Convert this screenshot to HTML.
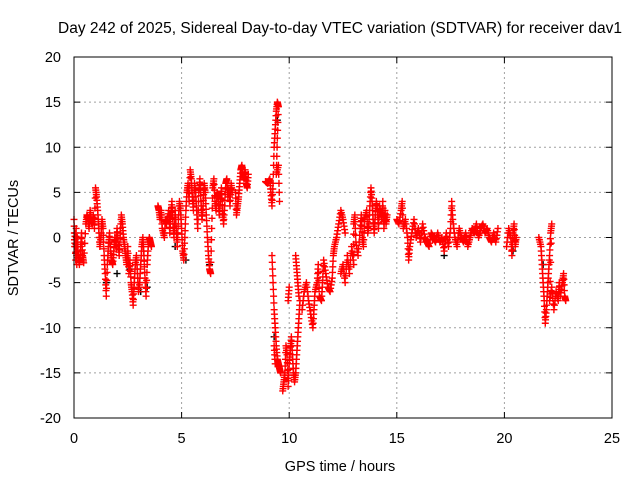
<!DOCTYPE html>
<html><head><meta charset="utf-8"><style>
html,body{margin:0;padding:0;background:#fff;}
svg{display:block;font-family:"Liberation Sans",sans-serif;}
</style></head><body>
<svg id="chart" width="640" height="480" viewBox="0 0 640 480">
<text x="340" y="33" font-size="15.5" text-anchor="middle">Day 242 of 2025, Sidereal Day-to-day VTEC variation (SDTVAR) for receiver dav1</text>
<text x="340" y="471" font-size="14.5" text-anchor="middle">GPS time / hours</text>
<text transform="translate(18,238) rotate(-90)" font-size="14.5" text-anchor="middle">SDTVAR / TECUs</text>
<g id="grid"></g>
<g id="axes"></g>
<g id="black"></g>
<g id="red"></g>
<rect x="74" y="57" width="538" height="361" fill="none" stroke="#000" stroke-width="1"/>
</svg>
<script>
const xTicks=[0,5,10,15,20,25];
const yTicks=[-20,-15,-10,-5,0,5,10,15,20];
const redT=[0,0.03,0.05,0.08,0.1,0.13,0.15,0.2,0.25,0.3,0.35,0.4,0.45,0.55,0.6,0.65,0.7,0.75,0.8,0.85,0.9,0.95,1.0,1.05,1.1,1.15,1.2,1.25,1.3,1.35,1.4,1.45,1.5,1.55,1.6,1.65,1.7,1.75,1.8,1.85,1.9,1.95,2.0,2.05,2.1,2.15,2.2,2.25,2.3,2.35,2.4,2.45,2.5,2.55,2.6,2.65,2.7,2.75,2.8,2.85,2.9,2.95,3.0,3.05,3.1,3.15,3.2,3.25,3.3,3.35,3.4,3.45,3.5,3.55,3.6,
3.9,3.95,4.0,4.05,4.1,4.2,4.25,4.3,4.4,4.45,4.5,4.55,4.6,4.65,4.7,4.75,4.8,4.85,4.9,4.95,5.0,5.05,5.1,5.15,5.2,5.25,5.3,5.35,5.4,5.45,5.5,5.55,5.6,5.65,5.7,5.75,5.8,5.85,5.9,5.95,6.0,6.05,6.1,6.15,6.2,6.25,6.3,6.35,6.4,6.45,6.5,6.55,6.6,6.65,6.7,6.75,6.8,6.85,6.9,6.95,7.0,7.05,7.1,7.15,7.2,7.25,7.3,7.35,7.5,7.55,7.6,7.65,7.7,7.75,7.8,7.85,7.9,7.95,8.0,8.05,8.1,
8.9,9.0,9.1,9.15,9.2,9.25,9.3,9.35,9.4,9.45,9.5,9.45,9.4,9.5,9.55,9.2,9.25,9.3,9.35,9.4,9.45,9.5,9.55,9.6,9.3,9.35,9.7,9.75,9.8,9.85,9.9,9.95,10.0,10.05,10.1,10.15,10.2,10.25,10.3,10.35,10.4,10.45,10.5,10.3,10.35,10.4,10.45,10.0,9.95,
10.6,10.7,10.8,10.9,11.0,11.1,11.15,11.2,11.3,11.35,11.4,11.5,11.55,11.6,11.7,11.8,11.9,12.0,12.05,12.1,12.2,12.3,12.4,12.5,12.6,12.4,12.5,12.6,12.7,12.8,12.9,13.0,13.0,13.05,13.1,13.2,13.3,13.35,13.4,13.45,13.5,13.6,13.65,13.7,13.75,13.8,13.85,13.9,13.95,14.0,14.05,14.1,14.15,14.2,14.3,14.35,14.4,14.45,14.5,14.55,
15.0,15.1,15.2,15.25,15.3,15.4,15.5,15.55,15.6,15.7,15.8,15.9,16.0,16.1,16.2,16.3,16.4,16.5,16.6,16.7,16.8,16.9,17.0,17.1,17.2,17.3,17.4,17.5,17.55,17.6,17.7,17.8,17.9,18.0,18.1,18.2,18.3,18.4,18.5,18.6,18.7,18.8,18.9,19.0,19.1,19.2,19.3,19.4,19.5,19.6,19.7,
20.1,20.2,20.3,20.35,20.4,20.45,20.5,20.55,
21.6,21.7,21.75,21.8,21.85,21.9,21.95,22.0,22.05,22.1,22.15,22.2,22.1,22.2,22.3,22.4,22.5,22.55,22.6,22.7,22.75,22.8,22.85];
const redV=[2,-1,0.5,-2.5,1,-3,0,-2,-3,-1.5,0.5,-2,-2.8,1.5,2.5,2,1,3,2,1.5,2.5,1,5.5,4.5,3,1,-1,0,2,1,-2,-4,-6.5,-3,-1,0.5,-1.5,-2.5,-3,-1.5,0,-1,1,-0.5,-2,0.5,2.5,1.5,0,-1,-2,-3,-1,-4,-2.5,-5,-6,-7.5,-5,-3,-2,-4,-6,-5,-3,-1,0,-2,-4.5,-6.5,-3,-1,0,-0.5,-1,
3.5,3,2,3,1,0,2,1.5,3,0.5,2.5,4,1.5,0,3,1,-1,2,4,3,1,-1.5,-2.5,0,3,5,6,4,7.5,6.5,4.5,3,6,5,3,1,5,6.5,4,2,3.5,6,5,2.5,0,-2,-3.5,-4,1,5.5,6.5,4,3,5,4.5,2.5,4,5.5,3,1.5,3.5,6,6.5,4.5,5.5,3.5,6,5,5,2.5,3.5,4.5,6,7.5,8,7,6.5,7.5,6,5.5,7,
6.2,6,6.5,5,3.5,6,10,12,14,15,14.5,11,7,8,4,-2,-5,-8,-10,-12,-13.5,-14,-14.5,-15,-12,-14,-17,-16,-15,-12,-13,-16.5,-14,-12.5,-11,-13,-15,-16,-15,-13,-11,-9,-7,-2,-3.5,-5,-6.5,-5.5,-7,
-8,-6,-5,-7,-8.5,-10,-8,-6,-5,-3,-6.5,-7,-5,-2.5,-4,-5.5,-6,-4.5,-2,-1,0,1.5,3,2,0.5,-4,-3,-5,-2,-4,-1,-3,1.5,2.5,-0.5,-2,1,2.5,0,-1,2,3,0.5,1.5,3.5,5.5,4,2,0.5,2.5,4,3,1,3.5,2,4,1,3,1.5,2.5,
2,1.5,3,4,1,2,0,-2.5,-1,0.5,2,0,1,-0.5,1.5,0,-0.5,-1,0.5,0,-0.5,0.5,-0.5,0,-1.5,0.5,-1,1,4,2,0,-1,1,0,-0.5,0.5,-1,0,1,0.5,1.5,0,1,1.5,0.5,1,0,-0.5,0.5,-0.5,1,
-1,1,0,-2,0.5,1.5,-1,0,
0,-1,-3,-5,-7,-9.5,-8,-6,-4,-2,0.5,1.5,-7,-5.5,-8,-6,-7,-5,-6.5,-5,-4,-6.5,-7];
const blackT=[1.5,2.0,2.6,3.1,3.4,4.7,5.2,6.3,9.3,9.45,14.4,17.2,20.4,21.8];
const blackV=[-5,-4,-3.5,-6,-5.5,-1,-2.5,-3,-11,13,2,-2,-1.5,-3];

const X=t=>74+t*538/25;
const Y=v=>418-(v+20)*361/40;
const NS="http://www.w3.org/2000/svg";
const grid=document.getElementById('grid'),axes=document.getElementById('axes');
function mk(tag,attrs,parent){const e=document.createElementNS(NS,tag);for(const k in attrs)e.setAttribute(k,attrs[k]);parent.appendChild(e);return e;}
xTicks.forEach(t=>{
  const x=X(t);
  if(t>0&&t<25){const g=mk('line',{x1:x,x2:x,y1:57,y2:418,stroke:'#a0a0a0','stroke-dasharray':'2,3'},grid);
  
  }
  mk('line',{x1:x,x2:x,y1:418,y2:412,stroke:'#000'},axes);
  mk('line',{x1:x,x2:x,y1:57,y2:63,stroke:'#000'},axes);
  const l=mk('text',{x:x,y:443,'font-size':14.5,'text-anchor':'middle'},axes);l.textContent=t;
  
  
});
yTicks.forEach(v=>{
  const y=Y(v);
  if(v>-20&&v<20){const g=mk('line',{x1:74,x2:612,y1:y,y2:y,stroke:'#a0a0a0','stroke-dasharray':'2,3'},grid);
  
  }
  mk('line',{x1:74,x2:80,y1:y,y2:y,stroke:'#000'},axes);
  mk('line',{x1:612,x2:606,y1:y,y2:y,stroke:'#000'},axes);
  const l=mk('text',{x:61,y:y+5,'font-size':14.5,'text-anchor':'end'},axes);l.textContent=v;
  
  
});
function plus(g,t,v,c){
  const x=X(t),y=Y(v);
  const p=mk('path',{d:`M${x-3.5},${y}H${x+3.5}M${x},${y-3.5}V${y+3.5}`,stroke:c,'stroke-width':1.4,fill:'none'},g);
  
  
}
const bg=document.getElementById('black'),rg=document.getElementById('red');
blackT.forEach((t,i)=>plus(bg,t,blackV[i],'#000'));
redT.forEach((t,i)=>{plus(rg,t,redV[i],'#ff0000');
  if(i>0&&Math.abs(redT[i]-redT[i-1])<=0.12){
    const t0=redT[i-1],v0=redV[i-1];
    [0.25,0.5,0.75].forEach(f=>plus(rg,t0+(t-t0)*f,v0+(redV[i]-v0)*f,'#ff0000'));
  }
});
</script>
</body></html>
